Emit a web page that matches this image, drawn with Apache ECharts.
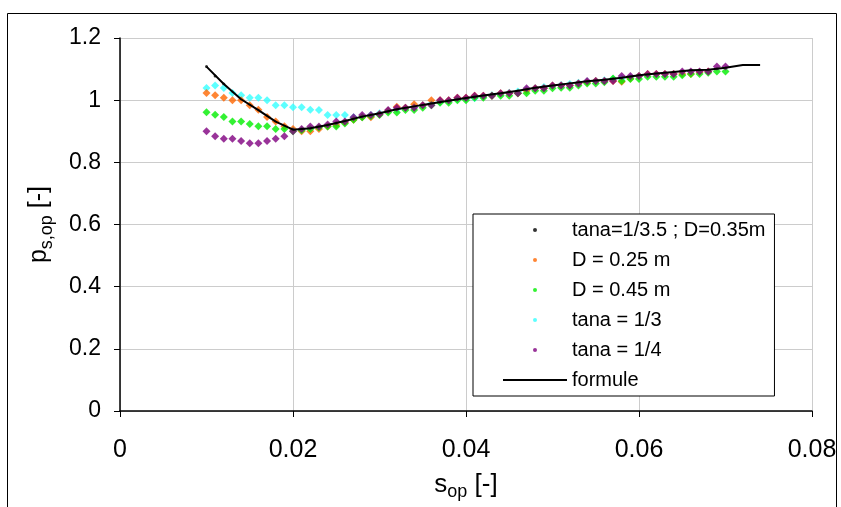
<!DOCTYPE html>
<html>
<head>
<meta charset="utf-8">
<script src="https://cdn.jsdelivr.net/npm/echarts@6/dist/echarts.min.js"></script>
<style>
  html, body { margin: 0; padding: 0; background: #ffffff; }
  #chart { width: 841px; height: 507px; }
</style>
</head>
<body>
<div id="chart"></div>
<script>
// Measured overtopping ratio p_s,op against s_op for several slope / diameter cases
const sOp = [
  0.010, 0.011, 0.012, 0.013, 0.014, 0.015, 0.016, 0.017, 0.018, 0.019,
  0.020, 0.021, 0.022, 0.023, 0.024, 0.025, 0.026, 0.027, 0.028, 0.029,
  0.030, 0.031, 0.032, 0.033, 0.034, 0.035, 0.036, 0.037, 0.038, 0.039,
  0.040, 0.041, 0.042, 0.043, 0.044, 0.045, 0.046, 0.047, 0.048, 0.049,
  0.050, 0.051, 0.052, 0.053, 0.054, 0.055, 0.056, 0.057, 0.058, 0.059,
  0.060, 0.061, 0.062, 0.063, 0.064, 0.065, 0.066, 0.067, 0.068, 0.069,
  0.070
];

// tana = 1/3.5 ; D = 0.35 m (reference case)
const refCase = [
  1.108, 1.078, 1.052, 1.027, 1.003, 0.985, 0.968, 0.950, 0.931, 0.918,
  0.905, 0.907, 0.910, 0.915, 0.920, 0.927, 0.933, 0.940, 0.947, 0.953,
  0.958, 0.965, 0.971, 0.975, 0.980, 0.985, 0.989, 0.994, 0.998, 1.003,
  1.007, 1.011, 1.015, 1.018, 1.022, 1.026, 1.030, 1.035, 1.040, 1.044,
  1.047, 1.050, 1.054, 1.057, 1.061, 1.064, 1.066, 1.069, 1.072, 1.076,
  1.080, 1.083, 1.086, 1.088, 1.091, 1.094, 1.096, 1.097, 1.098, 1.101,
  1.104
];

// D = 0.25 m
const d025 = [
  1.023, 1.016, 1.008, 1.000, 1.000, 0.984, 0.969, 0.946, 0.931, 0.916,
  0.907, 0.900, 0.900, 0.907, 0.915, 0.920, 0.928, 0.937, 0.945, 0.945,
  0.955, 0.966, 0.979, 0.976, 0.987, 0.984, 1.000, 1.000, 1.000, 1.008,
  1.008, 1.014, 1.014, 1.014, 1.022, 1.022, 1.022, 1.030, 1.038, 1.038,
  1.047, 1.047, 1.047, 1.054, 1.058, 1.062, 1.062, 1.062, 1.059, 1.070,
  1.078, 1.084, 1.084, 1.084, 1.084, 1.084, 1.084, 1.090, 1.092
];

// D = 0.45 m
const d045 = [
  0.961, 0.953, 0.946, 0.931, 0.931, 0.923, 0.916, 0.916, 0.907, 0.907,
  0.900, 0.903, 0.907, 0.912, 0.915, 0.915, 0.925, 0.937, 0.945, 0.948,
  0.952, 0.960, 0.960, 0.968, 0.968, 0.976, 0.984, 0.992, 0.992, 1.000,
  1.000, 1.008, 1.008, 1.014, 1.014, 1.014, 1.022, 1.022, 1.030, 1.030,
  1.038, 1.040, 1.040, 1.047, 1.054, 1.054, 1.058, 1.070, 1.062, 1.068,
  1.068, 1.075, 1.075, 1.075, 1.075, 1.080, 1.084, 1.084, 1.088, 1.092,
  1.092
];

// tana = 1/3
const tan13 = [
  1.039, 1.047, 1.039, 1.023, 1.016, 1.008, 1.008, 1.000, 0.984, 0.984,
  0.977, 0.977, 0.969, 0.968, 0.952, 0.952, 0.952, 0.945, 0.945, 0.952,
  0.958, 0.966, 0.971, 0.975, 0.980, 0.984, 0.989, 0.994, 0.998, 1.003,
  1.004, 1.006, 1.012, 1.016, 1.020, 1.024, 1.028, 1.034, 1.038, 1.042,
  1.046, 1.049, 1.052, 1.056, 1.060, 1.062, 1.064, 1.068, 1.070, 1.074,
  1.078
];

// tana = 1/4
const tan14 = [
  0.900, 0.884, 0.876, 0.876, 0.869, 0.861, 0.861, 0.869, 0.876, 0.884,
  0.900, 0.907, 0.915, 0.915, 0.922, 0.931, 0.931, 0.945, 0.952, 0.952,
  0.955, 0.968, 0.976, 0.976, 0.976, 0.984, 0.984, 1.000, 1.000, 1.008,
  1.008, 1.014, 1.014, 1.014, 1.022, 1.022, 1.022, 1.038, 1.038, 1.038,
  1.047, 1.047, 1.047, 1.054, 1.062, 1.062, 1.062, 1.062, 1.078, 1.078,
  1.078, 1.084, 1.084, 1.084, 1.084, 1.092, 1.092, 1.092, 1.092, 1.108,
  1.108
];

// Design formula curve
const formulaX = [
  0.010, 0.012, 0.014, 0.016, 0.018, 0.020, 0.022, 0.024, 0.026, 0.028,
  0.030, 0.032, 0.034, 0.036, 0.038, 0.040, 0.042, 0.044, 0.046, 0.048,
  0.050, 0.052, 0.054, 0.056, 0.058, 0.060, 0.062, 0.064, 0.066, 0.068,
  0.070, 0.072, 0.074
];
const formulaY = [
  1.108, 1.052, 1.003, 0.968, 0.931, 0.905, 0.910, 0.920, 0.933, 0.947,
  0.958, 0.971, 0.980, 0.989, 0.998, 1.007, 1.015, 1.022, 1.030, 1.040,
  1.047, 1.054, 1.061, 1.066, 1.072, 1.080, 1.086, 1.091, 1.096, 1.098,
  1.104, 1.113, 1.113
];

const xTicks = ['0', '0.02', '0.04', '0.06', '0.08'];

const FONT = 'Liberation Sans, Arial, sans-serif';

function pairs(xs, ys) {
  return ys.map((y, i) => [xs[i], y]);
}

const names = {
  ref: 'tana=1/3.5 ; D=0.35m',
  d025: 'D = 0.25 m',
  d045: 'D = 0.45 m',
  t13: 'tana = 1/3',
  t14: 'tana = 1/4',
  formula: 'formule'
};

function dots(name, data, color, size, shape) {
  return {
    name: name,
    type: 'scatter',
    data: data,
    symbol: shape || 'diamond',
    symbolSize: size || 8,
    itemStyle: { color: color },
    emphasis: { disabled: true },
    animation: false
  };
}

const chart = echarts.init(document.getElementById('chart'), null, { renderer: 'canvas' });

const xNameRich = {
  a: { fontSize: 26, fontFamily: FONT, color: '#000' },
  b: { fontSize: 18, fontFamily: FONT, color: '#000', padding: [15, 0, 0, 0] }
};
const yNameRich = {
  a: { fontSize: 25, fontFamily: FONT, color: '#000' },
  b: { fontSize: 18, fontFamily: FONT, color: '#000', padding: [15, 0, 0, 0] }
};

chart.setOption({
  backgroundColor: '#ffffff',
  animation: false,
  grid: { left: 120, right: 29, top: 38, bottom: 96 },
  xAxis: {
    type: 'value',
    min: 0,
    max: 0.08,
    interval: 0.02,
    name: '{a|s}{b|op}{a| [-]}',
    nameLocation: 'middle',
    nameGap: 57,
    nameTextStyle: { rich: xNameRich },
    axisLine: { onZero: false, lineStyle: { color: '#000', width: 1.5 } },
    axisTick: { show: true, inside: false, length: 6, lineStyle: { color: '#000' } },
    axisLabel: {
      margin: 27,
      fontSize: 25,
      fontFamily: FONT,
      color: '#000',
      formatter: (v) => xTicks[Math.round(v / 0.02)]
    },
    splitLine: { show: true, lineStyle: { color: '#cccccc', width: 1 } }
  },
  yAxis: {
    type: 'value',
    min: 0,
    max: 1.2,
    interval: 0.2,
    name: '{a|p}{b|s,op}{a| [-]}',
    nameLocation: 'middle',
    nameRotate: 90,
    nameGap: 64,
    nameTextStyle: { rich: yNameRich },
    axisLine: { show: true, onZero: false, lineStyle: { color: '#000', width: 1.5 } },
    axisTick: { show: true, inside: false, length: 6, lineStyle: { color: '#000' } },
    axisLabel: { margin: 19, fontSize: 23, fontFamily: FONT, color: '#000' },
    splitLine: { show: true, lineStyle: { color: '#cccccc', width: 1 } }
  },
  legend: {
    orient: 'vertical',
    left: 473,
    top: 214,
    padding: [5, 9, 5, 30],
    itemGap: 8,
    itemWidth: 64,
    itemHeight: 4,
    backgroundColor: '#ffffff',
    borderColor: '#000000',
    borderWidth: 1,
    borderRadius: 0,
    selectedMode: false,
    textStyle: { fontSize: 20, fontFamily: FONT, color: '#000', lineHeight: 22 },
    data: [
      { name: names.ref, icon: 'circle' },
      { name: names.d025, icon: 'circle' },
      { name: names.d045, icon: 'circle' },
      { name: names.t13, icon: 'circle' },
      { name: names.t14, icon: 'circle' },
      { name: names.formula, icon: 'path://M0,0 L64,0 L64,2 L0,2 Z' }
    ]
  },
  series: [
    dots(names.ref, pairs(sOp, refCase), '#000000', 3, 'circle'),
    {
      name: names.formula,
      type: 'line',
      data: pairs(formulaX, formulaY),
      showSymbol: false,
      symbol: 'none',
      lineStyle: { color: '#000000', width: 2 },
      itemStyle: { color: '#000000' },
      emphasis: { disabled: true },
      animation: false
    },
    dots(names.t13, pairs(sOp, tan13), '#33ffff'),
    dots(names.d025, pairs(sOp, d025), '#ff6600'),
    dots(names.d045, pairs(sOp, d045), '#00ee00'),
    dots(names.t14, pairs(sOp, tan14), '#800080')
  ],
  graphic: [
    {
      type: 'rect',
      silent: true,
      shape: { x: 7.5, y: 13.5, width: 829, height: 510 },
      style: { fill: null, stroke: '#000000', lineWidth: 1 },
      z: 100
    }
  ]
});
</script>
</body>
</html>
